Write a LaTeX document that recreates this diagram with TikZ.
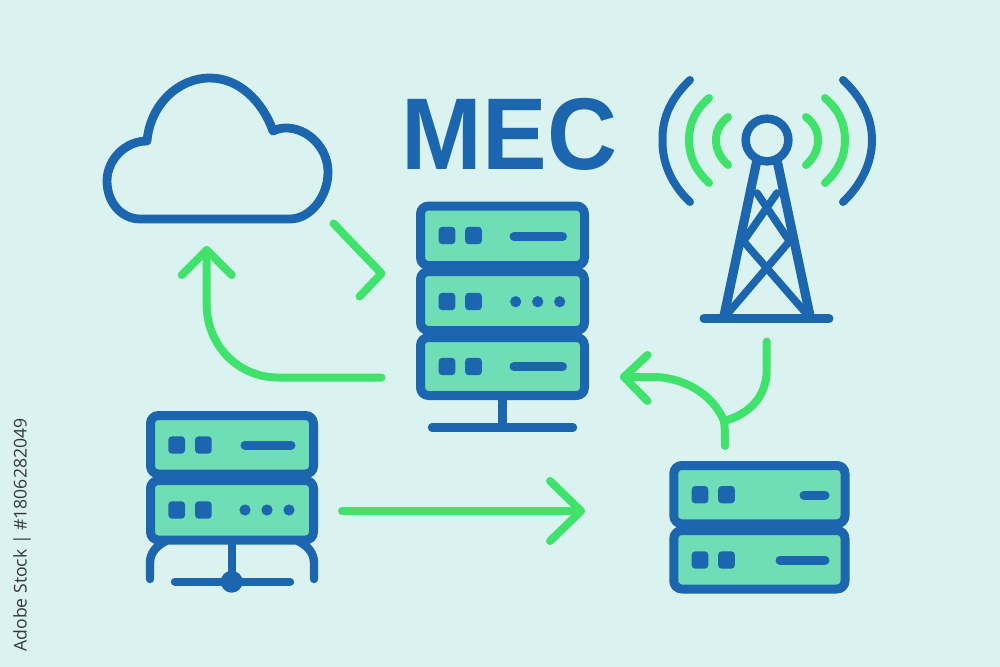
\documentclass[tikz,border=0pt]{standalone}
\usepackage{fontspec}
\setmainfont{Liberation Sans}
\newfontfamily\idfont{Open Sans}
\definecolor{bgc}{HTML}{DAF3F0}
\definecolor{blu}{HTML}{1B66AE}
\definecolor{fillg}{HTML}{6FDDB5}
\definecolor{arrg}{HTML}{3FE36B}
\tikzset{
  unitbox/.style={draw=blu,fill=fillg,line width=6.75pt,rounded corners=6pt,inner sep=0pt,line join=round},
  led/.style={fill=blu,draw=none,rounded corners=2.6pt,minimum width=12.5pt,minimum height=13pt,inner sep=0pt},
  bar/.style={draw=blu,line width=6.75pt,line cap=round},
  dotmark/.style={circle,fill=blu,draw=none,minimum size=8.4pt,inner sep=0pt},
  iconline/.style={draw=blu,line width=6.3pt,line cap=round,line join=round},
  legline/.style={draw=blu,line width=6.9pt,line cap=round,line join=round},
  braceline/.style={draw=blu,line width=5.7pt,line cap=round,line join=round},
  wave/.style={line width=6pt,line cap=round},
  flow/.style={draw=arrg,line width=6pt,line cap=round,line join=round}
}
\newcommand{\unit}[5]{% name, left, top, right, bottom
  \node[unitbox,minimum width={(#4-#2)*0.75pt},minimum height={(#5-#3)*0.75pt}] (#1) at ({(#2+#4)/2},{(#3+#5)/2}) {};}
\begin{document}
\begin{tikzpicture}[x=0.75pt,y=-0.75pt]
\path[use as bounding box,fill=bgc] (0,0) rectangle (1000,667);

% ID
\node[rotate=90,text=black!78,font=\idfont\fontsize{13.2}{13.2}\selectfont,inner sep=0pt] (idtext) at (22,535) {Adobe Stock | \#1806282049};

% title
\node[text=blu,font=\bfseries\fontsize{76.5}{76.5}\selectfont,inner sep=0pt,anchor=base,xscale=0.95] (mec) at (509.5,169.5) {MEC};

% cloud
\path[iconline,line width=6.6pt] (140,219) -- (290,219)
  .. controls (310,219) and (328,197) .. (328,172)
  .. controls (328,148) and (308,128) .. (286,128)
  .. controls (282,128) and (277,129) .. (273,131)
  .. controls (262,100) and (238,78) .. (210,78)
  .. controls (177,78) and (150,106) .. (147,141)
  .. controls (125,141) and (107,160) .. (107,181)
  .. controls (107,203) and (122,219) .. (140,219) -- cycle;

% tower
\coordinate (legLt) at (757,160);
\coordinate (legRt) at (777,160);
\coordinate (legLb) at (724,316);
\coordinate (legRb) at (810,316);
\coordinate (baseL) at (704,318.5);
\coordinate (baseR) at (829,318.5);
\path[legline] (legLt) -- (legLb);
\path[legline] (legRt) -- (legRb);
\path[bar] (baseL) -- (baseR);
\path[braceline] (757,193) -- (788,239) (788,243) -- (729,312);
\path[braceline] (777,193) -- (745,239) (745,243) -- (805,312);
\node[circle,draw=blu,fill=bgc,line width=6.4pt,minimum size=32pt,inner sep=0pt] (mast) at (767,140) {};

% waves
\path[wave,draw=blu]
 (690,80) .. controls (671,98) and (662,118) .. (662.5,140) .. controls (662,162) and (671,184) .. (690,202);
\path[wave,draw=blu]
 (843,80) .. controls (862,98) and (872,118) .. (872,140) .. controls (872,162) and (862,184) .. (843,202);
\path[wave,draw=arrg]
 (709,98) .. controls (695,110) and (689,124) .. (689,140) .. controls (689,156) and (695,170) .. (709,183);
\path[wave,draw=arrg]
 (825,98) .. controls (839,110) and (845,124) .. (845,140) .. controls (845,156) and (839,170) .. (825,183);
\path[wave,draw=arrg]
 (728,117) .. controls (719,124) and (716,132) .. (716,140) .. controls (716,148) and (719,157) .. (728,165);
\path[wave,draw=arrg]
 (806,117) .. controls (815,124) and (818,132) .. (818,140) .. controls (818,148) and (815,157) .. (806,165);

% centre server
\coordinate (cStemT) at (502.5,396);
\coordinate (cStemB) at (502.5,427.5);
\coordinate (cBaseL) at (432,427.5);
\coordinate (cBaseR) at (573,427.5);
\path[iconline] (cStemT) -- (cStemB);
\path[iconline] (cBaseL) -- (cBaseR);
\unit{c3}{420.5}{337.5}{584.5}{395.5}
\unit{c2}{420.5}{271.5}{584.5}{330.5}
\unit{c1}{420.5}{206}{584.5}{265.5}
\node[led] (c1a) at (447,235.5) {}; \node[led] (c1b) at (473.5,235.5) {};
\node[led] (c2a) at (447,301.5) {}; \node[led] (c2b) at (473.5,301.5) {};
\node[led] (c3a) at (447,366.5) {}; \node[led] (c3b) at (473.5,366.5) {};
\path[bar] (514,236.5) -- (562.5,236.5);
\path[bar] (514,366.5) -- (562.5,366.5);
\node[dotmark] (c2x) at (515.7,301.7) {};
\node[dotmark] (c2y) at (537.7,301.7) {};
\node[dotmark] (c2z) at (559.7,301.7) {};

% left server
\path[iconline] (150,579) -- (150,563) .. controls (150,553) and (156,546) .. (166,541);
\path[iconline] (314,579) -- (314,563) .. controls (314,553) and (308,546) .. (298,541);
\path[iconline] (231.7,538) -- (231.7,581.7);
\path[iconline] (175,581.7) -- (290,581.7);
\node[circle,fill=blu,draw=none,minimum size=16.5pt,inner sep=0pt] (hub) at (231.7,581.7) {};
\unit{l2}{150.5}{480.5}{313.5}{540}
\unit{l1}{150.5}{415.5}{313.5}{474}
\node[led] (l1a) at (176.7,445) {}; \node[led] (l1b) at (203.4,445) {};
\node[led] (l2a) at (176.7,510) {}; \node[led] (l2b) at (203.4,510) {};
\path[bar] (245,445) -- (291,445);
\node[dotmark] (l2x) at (245,510) {};
\node[dotmark] (l2y) at (267,510) {};
\node[dotmark] (l2z) at (289,510) {};

% right server
\unit{r2}{673.8}{530.5}{845}{589}
\unit{r1}{673.8}{465.5}{845}{523.8}
\node[led] (r1a) at (700,494.7) {}; \node[led] (r1b) at (726.5,494.7) {};
\node[led] (r2a) at (700,560) {}; \node[led] (r2b) at (726.5,560) {};
\path[bar] (804,495) -- (825,495);
\path[bar] (780,560) -- (825,560);

% flows
\coordinate (f1a) at (333.5,223.5);
\coordinate (f1b) at (381.5,273.5);
\coordinate (f1c) at (359.5,296.5);
\path[flow] (f1a) -- (f1b) -- (f1c);

\coordinate (f2s) at (381.5,377.5);
\coordinate (f2t) at (206.7,250);
\path[flow] (f2s) -- (278,377.5) .. controls (238,377.5) and (206.7,345) .. (206.7,305) -- (f2t);
\path[flow] (181.7,275) -- (f2t) -- (231.7,275);

\coordinate (f3s) at (342,511);
\coordinate (f3t) at (581,511);
\path[flow] (f3s) -- (f3t);
\path[flow] (550,481) -- (f3t) -- (550,541);

\coordinate (f4s) at (725,446);
\coordinate (f4t) at (624,377);
\coordinate (f4j) at (724,421);
\coordinate (f4u) at (766.7,341.5);
\path[flow] (f4s) .. controls (725,437) and (725,428) .. (f4j)
  .. controls (712,392) and (680,376) .. (650,377) -- (f4t);
\path[flow] (f4u) -- (766.7,370) .. controls (766.7,396) and (750,414) .. (f4j);
\path[flow] (647.5,355) -- (f4t) -- (647.5,401);
\end{tikzpicture}
\end{document}
